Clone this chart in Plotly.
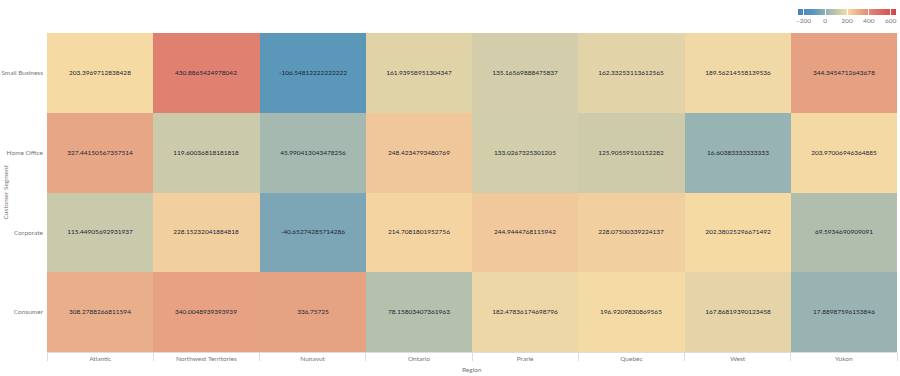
import plotly.graph_objects as go

regions = ["Atlantic", "Northwest Territories", "Nunavut", "Ontario", "Prarie", "Quebec", "West", "Yukon"]
segments = ["Small Business", "Home Office", "Corporate", "Consumer"]

small_business = [203.3969712838428, 430.8865424978042, -106.54812222222222, 161.93958951304347,
                  135.16569888475837, 162.33253113612565, 189.56214558139536, 344.3454712643678]
home_office = [327.44150567357514, 119.60036818181818, 45.990413043478256, 248.4234793480769,
               133.0267325301205, 125.90559510152282, 16.60383333333333, 203.97006946364886]
corporate = [115.44905692931937, 228.15232041884818, -40.65274285714286, 214.7081801952756,
             244.9444768115942, 228.07500339224137, 202.38025296671492, 69.5934690909091]
consumer = [308.2788266811594, 340.0048939393939, 336.75725, 78.15803407361963,
            182.47836174698796, 196.9209830869565, 167.86819390123458, 17.88987596153846]

z = [small_business, home_office, corporate, consumer]
text = [[repr(v) for v in row] for row in z]

colorscale = [
    [0.0, "#4682be"],
    [0.16, "#5b97b9"],
    [0.296, "#98b3b3"],
    [0.364, "#b5c0ad"],
    [0.426, "#d2cdab"],
    [0.5, "#f6dba5"],
    [0.55, "#f0c89b"],
    [0.656, "#e6a283"],
    [0.756, "#df8070"],
    [1.0, "#d4424a"],
]

L, R, T, B = 47, 3, 33, 24
W, H = 900, 376
pw, ph = W - L - R, H - T - B

fig = go.Figure(go.Heatmap(
    z=z, x=regions, y=segments, text=text,
    zmin=-250, zmax=650,
    colorscale=colorscale,
    texttemplate="%{text}",
    textfont=dict(family="Lato", size=6.5, color="#1c2535"),
    colorbar=dict(
        orientation="h", xanchor="right", x=(896 - L) / pw, yanchor="top", y=(H - B - 9) / ph,
        lenmode="pixels", len=98, thickness=6, ypad=0, xpad=0,
        outlinewidth=0,
        tickvals=[-200, 0, 200, 400, 600],
        ticks="inside", ticklen=6, tickcolor="white", tickwidth=1,
        tickfont=dict(family="Lato", size=6.5, color="#777"),
    ),
))

fig.update_layout(
    width=W, height=H,
    margin=dict(l=L, r=R, t=T, b=B, autoexpand=False),
    paper_bgcolor="white", plot_bgcolor="white",
    font=dict(family="Lato", size=7, color="#777"),
    xaxis=dict(
        tickson="boundaries", ticks="outside", ticklen=8, tickcolor="#ddd",
        showline=True, linecolor="#ddd", linewidth=1, automargin=False,
        tickfont=dict(size=6.5, color="#777"),
    ),
    yaxis=dict(
        autorange="reversed", ticks="", showline=False, automargin=False,
        ticklabelstandoff=3,
        tickfont=dict(size=6.5, color="#777"),
    ),
    annotations=[
        dict(text="Region", xref="paper", yref="paper", x=0.5, y=-(369 - (H - B)) / ph,
             yanchor="middle", showarrow=False, font=dict(size=6.5, color="#777")),
        dict(text="Customer Segment", xref="paper", yref="paper", x=-(L - 5) / pw, y=0.5,
             xanchor="center", yanchor="middle", textangle=-90, showarrow=False,
             font=dict(size=6.5, color="#777")),
    ],
)

fig.write_html(
    "out.html",
    config={"displayModeBar": False},
    post_script="document.body.style.margin='0';document.body.style.overflow='hidden';",
)
